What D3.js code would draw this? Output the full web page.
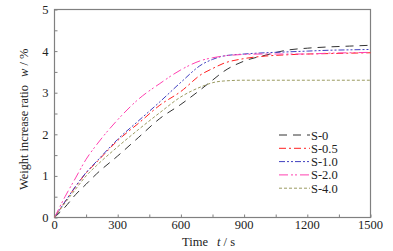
<!DOCTYPE html>
<html><head><meta charset="utf-8">
<script src="https://cdn.jsdelivr.net/npm/d3@7"></script>
<style>body{margin:0;background:#fff}svg{display:block}</style>
</head><body>
<svg id="c" width="393" height="251"></svg>
<script>
const times = [0,50,100,150,200,300,400,500,600,700,750,800,900,1000,1100,1200,1300,1400,1500];
const s0   = [0,0.25,0.55,0.80,1.05,1.48,1.93,2.38,2.72,3.10,3.30,3.50,3.76,3.90,4.02,4.07,4.10,4.12,4.14];
const s05  = [0,0.38,0.74,1.07,1.33,1.85,2.27,2.70,3.03,3.45,3.58,3.70,3.82,3.88,3.91,3.93,3.94,3.95,3.96];
const s10  = [0,0.38,0.75,1.08,1.35,1.88,2.33,2.78,3.25,3.68,3.80,3.88,3.93,3.96,3.98,4.00,4.02,4.03,4.04];
const s20  = [0,0.50,0.95,1.40,1.75,2.35,2.85,3.22,3.55,3.78,3.84,3.88,3.92,3.93,3.93,3.93,3.95,3.96,3.97];
const s40  = [0,0.35,0.68,1.00,1.25,1.70,2.12,2.52,2.90,3.15,3.24,3.28,3.30,3.30,3.30,3.30,3.30,3.30,3.30];
const seriesNames = ["S-0","S-0.5","S-1.0","S-2.0","S-4.0"];
const seriesValues = [s0,s05,s10,s20,s40];
const colors = ["#333333","#ff2020","#4040c0","#ff40b0","#9a9a60"];
const dashes = ["8,6","7,3,2,3","6,2,2,2,2,2","9,3,2,2,2,3","3,2"];
const xTicks = [0,300,600,900,1200,1500];
const yTicks = [0,1,2,3,4,5];

const svg = d3.select("#c");
const L=54.5,R=370.5,T=9.5,B=217.5;
const x = d3.scaleLinear().domain([0,1500]).range([L,R]);
const y = d3.scaleLinear().domain([0,5]).range([B,T]);
const font = "'Liberation Serif', 'Times New Roman', serif";
const axisCol = "#808080";
const txtCol = "#222";

// frame
svg.append("rect").attr("x",L).attr("y",T).attr("width",R-L).attr("height",B-T)
  .attr("fill","none").attr("stroke",axisCol).attr("stroke-width",1.2);

// ticks
const xa = svg.append("g").attr("transform",`translate(0,${B})`)
  .call(d3.axisBottom(x).tickValues(d3.range(0,1501,150)).tickSize(-3).tickFormat(""));
const ya = svg.append("g").attr("transform",`translate(${L},0)`)
  .call(d3.axisLeft(y).tickValues(d3.range(0,5.01,0.5)).tickSize(-3).tickFormat(""));
[xa,ya].forEach(g=>{g.select(".domain").remove();g.selectAll("line").attr("stroke",axisCol);});

// tick labels
svg.append("g").selectAll("text").data(xTicks).join("text")
  .attr("x",d=>x(d)).attr("y",B+11).attr("text-anchor","middle")
  .attr("font-family",font).attr("font-size",12.5).attr("fill",txtCol).text(d=>d);
svg.append("g").selectAll("text").data(yTicks).join("text")
  .attr("x",L-6).attr("y",d=>y(d)+4.5).attr("text-anchor","end")
  .attr("font-family",font).attr("font-size",12.5).attr("fill",txtCol).text(d=>d);

// axis titles
const xt = svg.append("text").attr("x",182).attr("y",246).attr("font-family",font)
  .attr("font-size",12.5).attr("fill",txtCol);
xt.append("tspan").text("Time");
xt.append("tspan").attr("x",217).attr("font-style","italic").text("t");
xt.append("tspan").text(" / s");

const yt = svg.append("text").attr("transform","translate(27.5,190) rotate(-90)")
  .attr("font-family",font).attr("font-size",12.5).attr("fill",txtCol);
yt.append("tspan").attr("textLength",105).attr("lengthAdjust","spacingAndGlyphs").text("Weight increase ratio");
yt.append("tspan").attr("x",113).attr("font-style","italic").text("w");
yt.append("tspan").text(" / %");

// lines
const line = d3.line().x(d=>x(d[0])).y(d=>y(d[1])).curve(d3.curveMonotoneX);
seriesValues.forEach((vals,i)=>{
  svg.append("path").datum(times.map((t,j)=>[t,vals[j]]))
    .attr("d",line).attr("fill","none").attr("stroke",colors[i])
    .attr("stroke-width",1).attr("stroke-dasharray",dashes[i]);
});

// legend
const lg = svg.append("g");
seriesNames.forEach((n,i)=>{
  const yy = 135 + i*13.3;
  lg.append("line").attr("x1",279).attr("x2",310).attr("y1",yy).attr("y2",yy)
    .attr("stroke",colors[i]).attr("stroke-width",1).attr("stroke-dasharray",dashes[i]);
  lg.append("text").attr("x",311).attr("y",yy+4.5).attr("font-family",font)
    .attr("font-size",12.5).attr("fill",txtCol).text(n);
});
</script>
</body></html>
